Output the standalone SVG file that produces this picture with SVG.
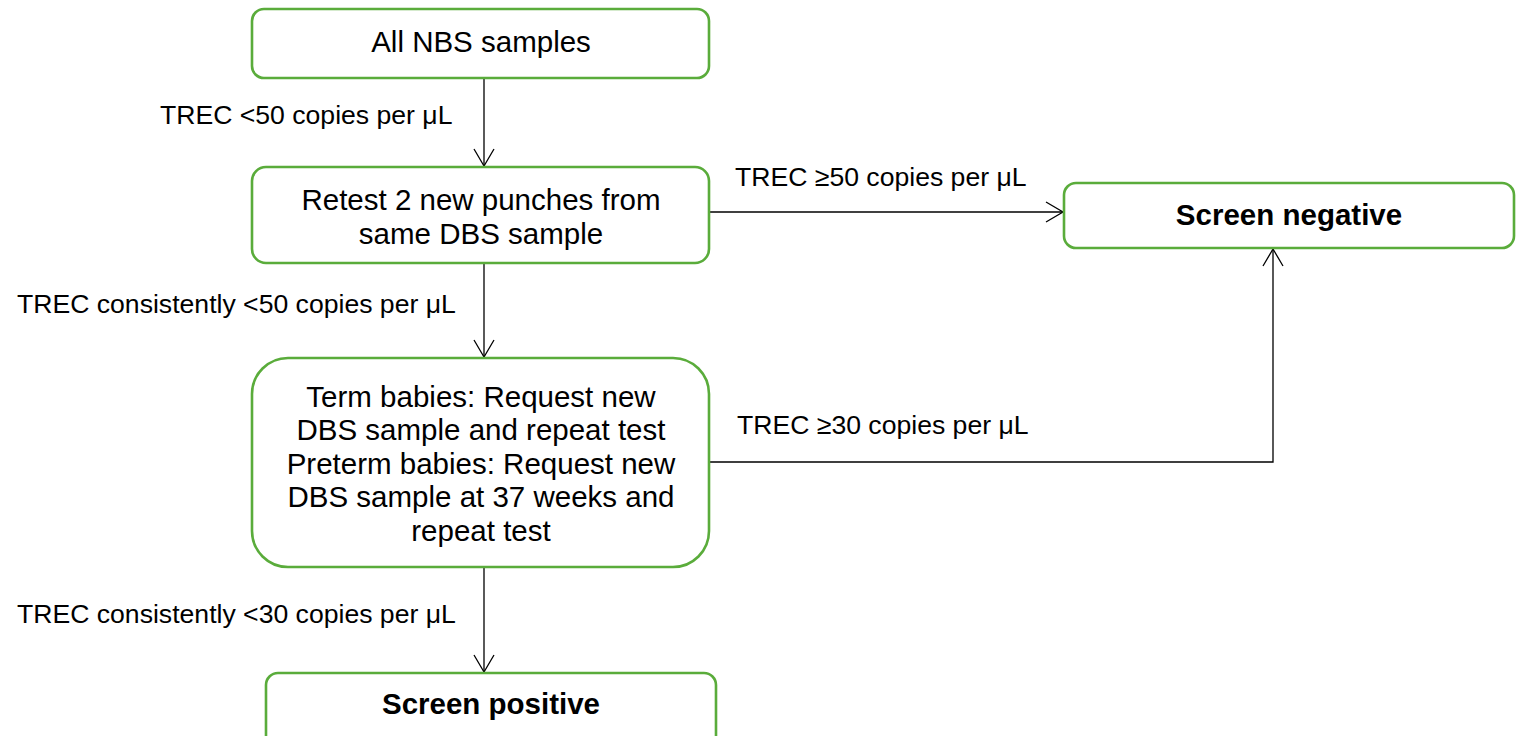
<svg xmlns="http://www.w3.org/2000/svg" width="1517" height="736" viewBox="0 0 1517 736">
<style>
.box{fill:#ffffff;stroke:#5aac3b;stroke-width:2.6}
.nt{font-family:"Liberation Sans",Arial,sans-serif;font-size:29.5px;fill:#000;text-anchor:middle}
.b{font-weight:bold}
.lb{font-family:"Liberation Sans",Arial,sans-serif;font-size:26.6px;fill:#000}
.c{fill:none;stroke:#000;stroke-width:1.3}
</style>
<defs>
<marker id="ah" markerUnits="userSpaceOnUse" markerWidth="24" markerHeight="24" viewBox="0 0 24 24" refX="18" refY="12" orient="auto">
<path d="M1,2 L18,12 L1,22" fill="none" stroke="#000" stroke-width="1.3"/>
</marker>
</defs>
<rect width="1517" height="736" fill="#fff"/>
<g id="connectors">
<line class="c" x1="484" y1="78" x2="484" y2="166" marker-end="url(#ah)"/>
<line class="c" x1="709" y1="212" x2="1063" y2="212" marker-end="url(#ah)"/>
<line class="c" x1="484" y1="263" x2="484" y2="357" marker-end="url(#ah)"/>
<polyline class="c" points="709,462 1273,462 1273,249" marker-end="url(#ah)"/>
<line class="c" x1="484" y1="567" x2="484" y2="672" marker-end="url(#ah)"/>
<text class="lb" x="160" y="124">TREC &lt;50 copies per μL</text>
<text class="lb" x="735" y="186">TREC ≥50 copies per μL</text>
<text class="lb" x="17" y="313">TREC consistently &lt;50 copies per μL</text>
<text class="lb" x="737" y="434">TREC ≥30 copies per μL</text>
<text class="lb" x="17" y="623">TREC consistently &lt;30 copies per μL</text>
</g>
<g id="node-all">
<rect class="box" x="252" y="9" width="457" height="69" rx="12"/>
<text class="nt" x="481" y="52">All NBS samples</text>
</g>
<g id="node-retest">
<rect class="box" x="252" y="167" width="457" height="96" rx="14"/>
<text class="nt" x="481" y="210">Retest 2 new punches from</text>
<text class="nt" x="481" y="244">same DBS sample</text>
</g>
<g id="node-negative">
<rect class="box" x="1064" y="183" width="450" height="65" rx="12"/>
<text class="nt b" x="1289" y="225">Screen negative</text>
</g>
<g id="node-request">
<rect class="box" x="252" y="358" width="457" height="209" rx="36"/>
<text class="nt" x="481" y="407">Term babies: Request new</text>
<text class="nt" x="481" y="440">DBS sample and repeat test</text>
<text class="nt" x="481" y="474">Preterm babies: Request new</text>
<text class="nt" x="481" y="507">DBS sample at 37 weeks and</text>
<text class="nt" x="481" y="541">repeat test</text>
</g>
<g id="node-positive">
<rect class="box" x="266" y="673" width="450" height="75" rx="12"/>
<text class="nt b" x="491" y="714">Screen positive</text>
</g>
</svg>
